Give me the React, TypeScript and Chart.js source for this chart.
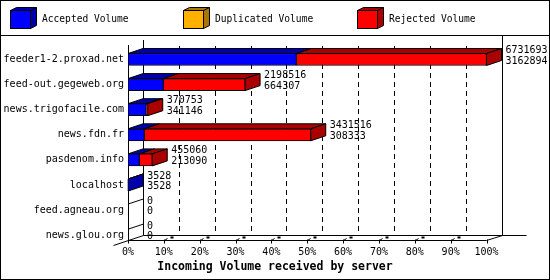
import React, { useEffect, useRef } from 'react';
import { Chart, registerables } from 'chart.js';

Chart.register(...registerables);

const categories = [
  'feeder1-2.proxad.net',
  'feed-out.gegeweb.org',
  'news.trigofacile.com',
  'news.fdn.fr',
  'pasdenom.info',
  'localhost',
  'feed.agneau.org',
  'news.glou.org',
];
const totalVolume = [6731693, 2198516, 370753, 3431516, 455060, 3528, 0, 0];
const acceptedVolume = [3162894, 664307, 341146, 308333, 213090, 3528, 0, 0];
const duplicatedVolume = [0, 0, 0, 0, 0, 0, 0, 0];
const rejectedVolume = [3568799, 1534209, 29607, 3123183, 241970, 0, 0, 0];
const seriesLabels = ['Accepted Volume', 'Duplicated Volume', 'Rejected Volume'];
const seriesColors = ['#0000ff', '#ffb000', '#ff0000'];
const seriesSideColors = ['#0000aa', '#aa7500', '#aa0000'];
const xTickLabels = ['0%', '10%', '20%', '30%', '40%', '50%', '60%', '70%', '80%', '90%', '100%'];
const axisTitle = 'Incoming Volume received by server';

const maxTotal = Math.max(...totalVolume);
const DX = 15;
const DY = 5;
const FONT = '"DejaVu Sans Mono", "Liberation Mono", monospace';

function line2(ctx: CanvasRenderingContext2D, a: number, b: number, c: number, d: number) {
  ctx.beginPath();
  ctx.moveTo(a, b);
  ctx.lineTo(c, d);
  ctx.stroke();
}

const threeD = {
  id: 'threeD',
  beforeDatasetsDraw(chart: any) {
    const ctx = chart.ctx as CanvasRenderingContext2D;
    const xs = chart.scales.x;
    const ys = chart.scales.y;
    const x0 = xs.getPixelForValue(0);
    const x100 = xs.getPixelForValue(maxTotal);
    const floorY = ys.getPixelForValue(categories.length - 1) + 5;
    ctx.save();
    ctx.strokeStyle = '#000';
    ctx.fillStyle = '#000';
    ctx.lineWidth = 1;
    const line = (a: number, b: number, c: number, d: number) => line2(ctx, a, b, c, d);
    const fy = Math.round(floorY) + 0.5;
    const by = Math.round(floorY - DY) + 0.5;
    const bx0 = Math.round(x0 + DX) + 0.5;
    const bx1 = Math.round(x100 + DX) + 0.5;
    const fx0 = Math.round(x0) + 0.5;
    // dashed grid on back wall
    ctx.setLineDash([5, 4]);
    for (let k = 1; k < xTickLabels.length - 1; k++) {
      const gx = Math.round(xs.getPixelForValue((maxTotal * k) / (xTickLabels.length - 1)) + DX) + 0.5;
      line(gx, 46, gx, by);
    }
    ctx.setLineDash([]);
    // walls
    line(bx0, 40, bx0, by);
    line(bx1, 36, bx1, by);
    line(fx0, 45, fx0, fy);
    // floor
    line(bx0, by, bx1 + 24, by);
    line(fx0, fy, x100, fy);
    line(x100, fy, bx1, by);
    line(fx0 - 15, fy + 5, bx0, by);
    // ticks
    for (let k = 0; k < xTickLabels.length; k++) {
      const tx = Math.round(xs.getPixelForValue((maxTotal * k) / (xTickLabels.length - 1))) + 0.5;
      line(tx, fy - 1, tx, fy + 3);
      if (k > 0 && k < xTickLabels.length - 1) {
        line(tx, fy, tx + 3, fy - 2);
        ctx.fillRect(tx + 6, fy - 4, 3, 2);
      }
    }
    // 3D faces of bars
    const series = [acceptedVolume, duplicatedVolume, rejectedVolume];
    for (let i = 0; i < categories.length; i++) {
      let last = -1;
      series.forEach((s, d) => {
        if (s[i] > 0) last = d;
      });
      if (last < 0) {
        const el = chart.getDatasetMeta(0).data[i];
        const top = el.y - el.height / 2;
        line(x0, top, x0 + DX, top - DY);
        continue;
      }
      for (let d = 0; d < series.length; d++) {
        if (series[d][i] <= 0) continue;
        const el = chart.getDatasetMeta(d).data[i];
        const left = Math.min(el.base, el.x);
        const right = Math.max(el.base, el.x);
        const top = el.y - el.height / 2;
        const bottom = el.y + el.height / 2;
        ctx.fillStyle = seriesSideColors[d];
        ctx.beginPath();
        ctx.moveTo(left, top);
        ctx.lineTo(right, top);
        ctx.lineTo(right + DX, top - DY);
        ctx.lineTo(left + DX, top - DY);
        ctx.closePath();
        ctx.fill();
        ctx.stroke();
        if (d === last) {
          ctx.beginPath();
          ctx.moveTo(right, top);
          ctx.lineTo(right + DX, top - DY);
          ctx.lineTo(right + DX, bottom - DY);
          ctx.lineTo(right, bottom);
          ctx.closePath();
          ctx.fill();
          ctx.stroke();
        }
      }
    }
    ctx.restore();
  },
  afterDraw(chart: any) {
    const ctx = chart.ctx as CanvasRenderingContext2D;
    const xs = chart.scales.x;
    const ys = chart.scales.y;
    const floorY = ys.getPixelForValue(categories.length - 1) + 5;
    ctx.save();
    ctx.fillStyle = '#000';
    ctx.strokeStyle = '#000';
    ctx.lineWidth = 1;
    // category labels
    ctx.font = `10px ${FONT}`;
    ctx.textAlign = 'right';
    ctx.textBaseline = 'middle';
    categories.forEach((c, i) => {
      ctx.fillText(c, xs.getPixelForValue(0) - 4, ys.getPixelForValue(i));
    });
    // value labels
    ctx.textAlign = 'left';
    categories.forEach((c, i) => {
      const tx = xs.getPixelForValue(totalVolume[i]) + DX + 4;
      const yc = ys.getPixelForValue(i);
      ctx.fillText(String(totalVolume[i]), tx, yc - 9);
      ctx.fillText(String(acceptedVolume[i]), tx, yc + 1.5);
    });
    // tick labels
    ctx.textAlign = 'center';
    xTickLabels.forEach((t, k) => {
      const tx = xs.getPixelForValue((maxTotal * k) / (xTickLabels.length - 1));
      ctx.fillText(t, tx, floorY + 12.5);
    });
    // axis title
    ctx.font = `bold 11.5px ${FONT}`;
    ctx.fillText(axisTitle, 275, 267);
    // legend
    const legendX = [10, 183, 357];
    ctx.font = `9.6px ${FONT}`;
    ctx.textAlign = 'left';
    seriesLabels.forEach((lab, d) => {
      const bx = legendX[d] + 0.5;
      const ty = 10.5;
      const bb = 28.5;
      ctx.fillStyle = seriesSideColors[d];
      ctx.beginPath();
      ctx.moveTo(bx, ty);
      ctx.lineTo(bx + 6, ty - 3);
      ctx.lineTo(bx + 26, ty - 3);
      ctx.lineTo(bx + 26, bb - 3);
      ctx.lineTo(bx + 20, bb);
      ctx.lineTo(bx, bb);
      ctx.closePath();
      ctx.fill();
      ctx.stroke();
      line2(ctx, bx + 20, ty, bx + 26, ty - 3);
      ctx.fillStyle = seriesColors[d];
      ctx.fillRect(bx, ty, 20, bb - ty);
      ctx.strokeRect(bx, ty, 20, bb - ty);
      ctx.fillStyle = '#000';
      ctx.fillText(lab, legendX[d] + 32, 19.5);
    });
    // frame
    ctx.strokeRect(0.5, 0.5, 549, 279);
    line2(ctx, 0, 35.5, 550, 35.5);
    ctx.restore();
  },
};

export default function App() {
  const ref = useRef<HTMLCanvasElement>(null);
  useEffect(() => {
    document.body.style.margin = '0';
    const seriesData = [acceptedVolume, duplicatedVolume, rejectedVolume];
    const chart = new Chart(ref.current as HTMLCanvasElement, {
      type: 'bar',
      data: {
        labels: categories,
        datasets: seriesLabels.map((label, d) => ({
          label,
          data: seriesData[d],
          backgroundColor: seriesColors[d],
          borderColor: '#000',
          borderWidth: 1,
          borderSkipped: false,
          barThickness: 12,
        })),
      },
      options: {
        indexAxis: 'y',
        responsive: false,
        animation: false,
        devicePixelRatio: 1,
        layout: { padding: { left: 128, right: 63.5, top: 46.95, bottom: 32.25 } },
        plugins: { legend: { display: false }, tooltip: { enabled: false } },
        scales: {
          x: { stacked: true, min: 0, max: maxTotal, display: false },
          y: { stacked: true, display: false },
        },
      } as any,
      plugins: [threeD],
    });
    return () => chart.destroy();
  }, []);
  return <canvas ref={ref} width={550} height={280} style={{ display: 'block', width: 550, height: 280 }} />;
}
